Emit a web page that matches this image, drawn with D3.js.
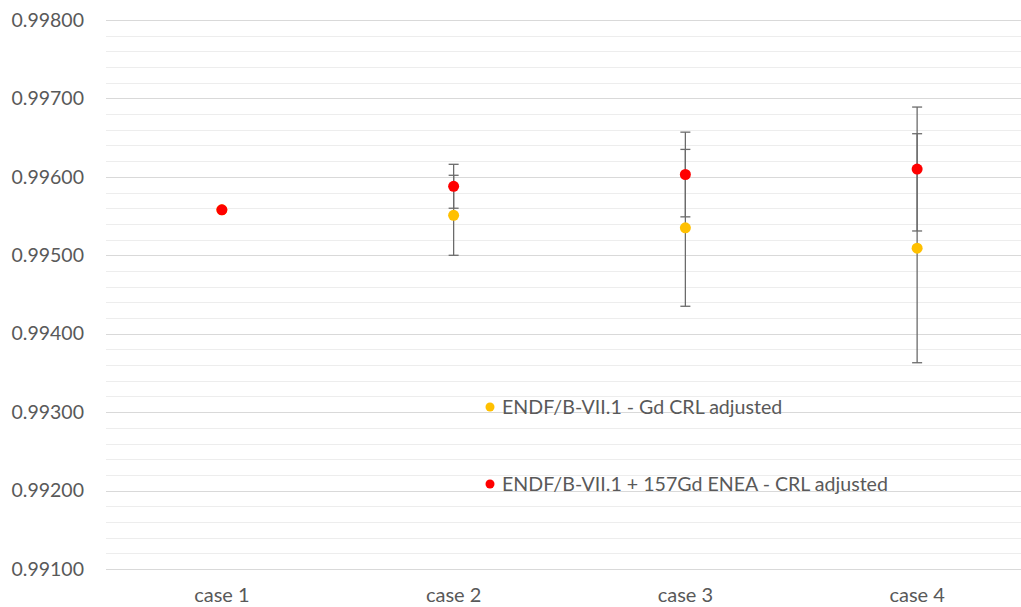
<!DOCTYPE html>
<html>
<head>
<meta charset="utf-8">
<script src="https://cdn.jsdelivr.net/npm/d3@7"></script>
<style>
  body { margin: 0; background: #fff; }
  text { font-family: Lato, "Open Sans", sans-serif; fill: #595959; }
</style>
</head>
<body>
<svg id="chart" width="1021" height="607"></svg>
<script>
const width = 1021;
const height = 607;

// data
const cases = ["case 1", "case 2", "case 3", "case 4"];
const gdValues = [0.99558, 0.99551, 0.99535, 0.99509];
const gdErrors = [0, 0.00051, 0.00100, 0.00146];
const enea157Values = [0.99558, 0.99588, 0.99603, 0.99610];
const enea157Errors = [0, 0.00028, 0.00054, 0.00079];
const yTicks = [0.991, 0.992, 0.993, 0.994, 0.995, 0.996, 0.997, 0.998];
const seriesNames = ["ENDF/B-VII.1 - Gd CRL adjusted", "ENDF/B-VII.1 + 157Gd ENEA - CRL adjusted"];
const seriesColors = ["#FFC000", "#FF0000"];

const svg = d3.select("#chart");

const x = d3.scaleBand()
  .domain(cases)
  .range([106, 1033]);

const y = d3.scaleLinear()
  .domain([0.991, 0.998])
  .range([569, 20]);

// minor gridlines every 0.0002
const minor = d3.range(0, 36).map(i => 0.991 + i * 0.0002).filter(v => v < 0.998);
svg.append("g")
  .selectAll("line")
  .data(minor)
  .enter()
  .append("line")
  .attr("x1", 106).attr("x2", width)
  .attr("y1", d => Math.round(y(d)) + 0.5)
  .attr("y2", d => Math.round(y(d)) + 0.5)
  .attr("stroke", "#ededed");

// major gridlines
svg.append("g")
  .selectAll("line")
  .data(yTicks)
  .enter()
  .append("line")
  .attr("x1", 106).attr("x2", width)
  .attr("y1", d => Math.round(y(d)) + 0.5)
  .attr("y2", d => Math.round(y(d)) + 0.5)
  .attr("stroke", "#d9d9d9");

// Y axis labels
const yAxis = svg.append("g")
  .attr("transform", "translate(94,0)")
  .call(d3.axisLeft(y).tickValues(yTicks).tickFormat(d3.format(".5f")).tickSize(0));
yAxis.select(".domain").remove();
yAxis.selectAll("text")
  .attr("x", -10)
  .style("font-size", "19.5px")
  .style("fill", "#595959");

// X axis labels
const xAxis = svg.append("g")
  .attr("transform", "translate(0,569)")
  .call(d3.axisBottom(x).tickSize(0));
xAxis.select(".domain").remove();
xAxis.selectAll("text")
  .attr("dy", 0)
  .attr("y", 33)
  .style("font-size", "20px")
  .style("fill", "#595959");

const series = [
  { values: gdValues, errors: gdErrors, color: seriesColors[0] },
  { values: enea157Values, errors: enea157Errors, color: seriesColors[1] }
];

// error bars
series.forEach(s => {
  const g = svg.append("g").attr("stroke", "#6b6b6b").attr("stroke-width", 1.3);
  cases.forEach((c, i) => {
    if (!s.errors[i]) return;
    const cx = x(c) + x.bandwidth() / 2;
    const top = y(s.values[i] + s.errors[i]);
    const bot = y(s.values[i] - s.errors[i]);
    g.append("line").attr("x1", cx).attr("x2", cx).attr("y1", top).attr("y2", bot);
    g.append("line").attr("x1", cx - 5).attr("x2", cx + 5).attr("y1", top).attr("y2", top);
    g.append("line").attr("x1", cx - 5).attr("x2", cx + 5).attr("y1", bot).attr("y2", bot);
  });
});

// points
series.forEach(s => {
  svg.append("g")
    .selectAll("circle")
    .data(cases)
    .enter()
    .append("circle")
    .attr("cx", d => x(d) + x.bandwidth() / 2)
    .attr("cy", (d, i) => y(s.values[i]))
    .attr("r", 5.5)
    .attr("fill", s.color);
});

// legend
const legend = svg.append("g");
seriesNames.forEach((name, i) => {
  const ly = 407 + i * 77;
  legend.append("circle")
    .attr("cx", 490).attr("cy", ly).attr("r", 4.5)
    .attr("fill", seriesColors[i]);
  legend.append("text")
    .attr("x", 502).attr("y", ly)
    .attr("dy", "0.35em")
    .style("font-size", "19.6px")
    .text(name);
});
</script>
</body>
</html>
